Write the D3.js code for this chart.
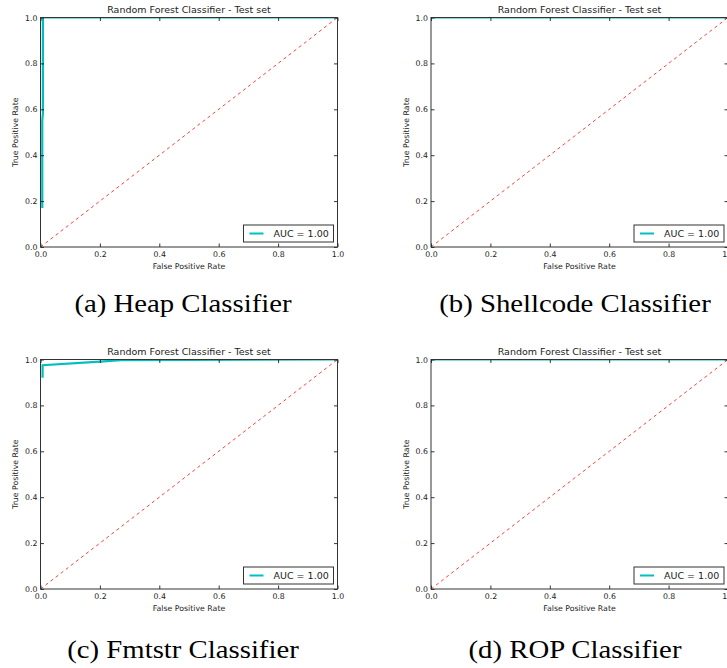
<!DOCTYPE html>
<html><head><meta charset="utf-8">
<script src="https://cdn.jsdelivr.net/npm/d3@7/dist/d3.min.js"></script>
<style>body{margin:0;background:#fff}svg{display:block}</style></head>
<body>
<svg id="chart" width="727" height="668"></svg>
<script>
// ---- data ----
const tickValues = [0.0, 0.2, 0.4, 0.6, 0.8, 1.0];
const tickLabels = ["0.0", "0.2", "0.4", "0.6", "0.8", "1.0"];
const heapFpr = [0.006, 0.006, 0.008, 0.008, 1.0];
const heapTpr = [0.17, 0.55, 0.58, 1.0, 1.0];
const shellFpr = [0.0, 1.0];
const shellTpr = [1.0, 1.0];
const fmtFpr = [0.007, 0.007, 0.2, 0.27, 1.0];
const fmtTpr = [0.92, 0.975, 0.991, 0.997, 1.0];
const ropFpr = [0.0, 1.0];
const ropTpr = [1.0, 1.0];
const chanceFpr = [0, 1];
const chanceTpr = [0, 1];
const aucLabels = ["AUC = 1.00", "AUC = 1.00", "AUC = 1.00", "AUC = 1.00"];
const captions = ["(a) Heap Classifier", "(b) Shellcode Classifier", "(c) Fmtstr Classifier", "(d) ROP Classifier"];
const titleText = "Random Forest Classifier - Test set";
const xLabel = "False Positive Rate";
const yLabel = "True Positive Rate";

// ---- layout ----
const lefts = [40.5, 431.0];
const tops = [17.5, 359.5];
const W = 297, H = 229.5;
const captionX = [183, 575];
const captionY = [312, 658];
const series = [[heapFpr, heapTpr], [shellFpr, shellTpr], [fmtFpr, fmtTpr], [ropFpr, ropTpr]];

const svg = d3.select("#chart");
const sans = "'DejaVu Sans', sans-serif";
const serif = "'Liberation Serif', 'Times New Roman', Times, serif";
const txt = "#222";

series.forEach((s, i) => {
  const col = i % 2, row = Math.floor(i / 2);
  const L = lefts[col], T = tops[row];
  const x = d3.scaleLinear().domain([0, 1]).range([0, W]);
  const y = d3.scaleLinear().domain([0, 1]).range([H, 0]);
  const g = svg.append("g").attr("transform", `translate(${L},${T})`);
  const clipId = "clip" + i;
  g.append("clipPath").attr("id", clipId).append("rect").attr("x", 0).attr("y", 0).attr("width", W).attr("height", H);

  const line = d3.line().x(d => x(d[0])).y(d => y(d[1]));
  const plot = g.append("g").attr("clip-path", `url(#${clipId})`);
  plot.append("path").datum(s[0].map((v, k) => [v, s[1][k]]))
    .attr("d", line).attr("fill", "none").attr("stroke", "#00bfbf").attr("stroke-width", 2.2)
    .attr("stroke-linejoin", "miter");
  plot.append("path").datum(chanceFpr.map((v, k) => [v, chanceTpr[k]]))
    .attr("d", line).attr("fill", "none").attr("stroke", "#ff2a2a").attr("stroke-width", 0.9)
    .attr("stroke-dasharray", "3.2,3.2");

  const fmt = (d, k) => tickLabels[k];
  const styleAxis = a => {
    a.select(".domain").remove();
    a.selectAll("line").attr("stroke", "#000").attr("stroke-width", 0.8);
    a.selectAll("text").attr("fill", txt).style("font-family", sans).style("font-size", "7.8px");
  };
  g.append("g").attr("transform", `translate(0,${H})`)
    .call(d3.axisBottom(x).tickValues(tickValues).tickFormat(fmt).tickSizeInner(-3.5).tickSizeOuter(0).tickPadding(4.5))
    .call(styleAxis);
  g.append("g")
    .call(d3.axisLeft(y).tickValues(tickValues).tickFormat(fmt).tickSizeInner(-3.5).tickSizeOuter(0).tickPadding(3))
    .call(styleAxis);
  g.append("g")
    .call(d3.axisTop(x).tickValues(tickValues).tickFormat("").tickSizeInner(-3.5).tickSizeOuter(0))
    .call(styleAxis);
  g.append("g").attr("transform", `translate(${W},0)`)
    .call(d3.axisRight(y).tickValues(tickValues).tickFormat("").tickSizeInner(-3.5).tickSizeOuter(0))
    .call(styleAxis);

  g.append("rect").attr("x", 0).attr("y", 0).attr("width", W).attr("height", H)
    .attr("fill", "none").attr("stroke", "#333").attr("stroke-width", 1);

  g.append("text").attr("x", W / 2).attr("y", -4.2).attr("text-anchor", "middle")
    .style("font-family", sans).style("font-size", "9.5px").attr("fill", txt).text(titleText);
  g.append("text").attr("x", W / 2).attr("y", H + 21.6).attr("text-anchor", "middle")
    .style("font-family", sans).style("font-size", "7.8px").attr("fill", txt).text(xLabel);
  g.append("text").attr("transform", `translate(-22.5,${H / 2}) rotate(-90)`).attr("text-anchor", "middle")
    .style("font-family", sans).style("font-size", "7.8px").attr("fill", txt).text(yLabel);

  // legend
  const lw = 90, lh = 17;
  const lg = g.append("g").attr("transform", `translate(${W - 4 - lw},${H - 5 - lh})`);
  lg.append("rect").attr("width", lw).attr("height", lh).attr("fill", "#fff").attr("stroke", "#333").attr("stroke-width", 1);
  lg.append("line").attr("x1", 6).attr("x2", 20).attr("y1", lh / 2).attr("y2", lh / 2)
    .attr("stroke", "#00bfbf").attr("stroke-width", 2);
  lg.append("text").attr("x", 30).attr("y", lh / 2 + 3.4)
    .style("font-family", sans).style("font-size", "9.5px").attr("fill", txt).text(aucLabels[i]);

  // caption
  const cap = svg.append("text").attr("x", captionX[col]).attr("y", captionY[row]).attr("text-anchor", "middle")
    .style("font-family", serif).style("font-size", "25px").attr("fill", "#000").text(captions[i]);
  const wNat = cap.node().getComputedTextLength();
  cap.attr("textLength", wNat * 1.15).attr("lengthAdjust", "spacingAndGlyphs");
});
</script>
</body></html>
